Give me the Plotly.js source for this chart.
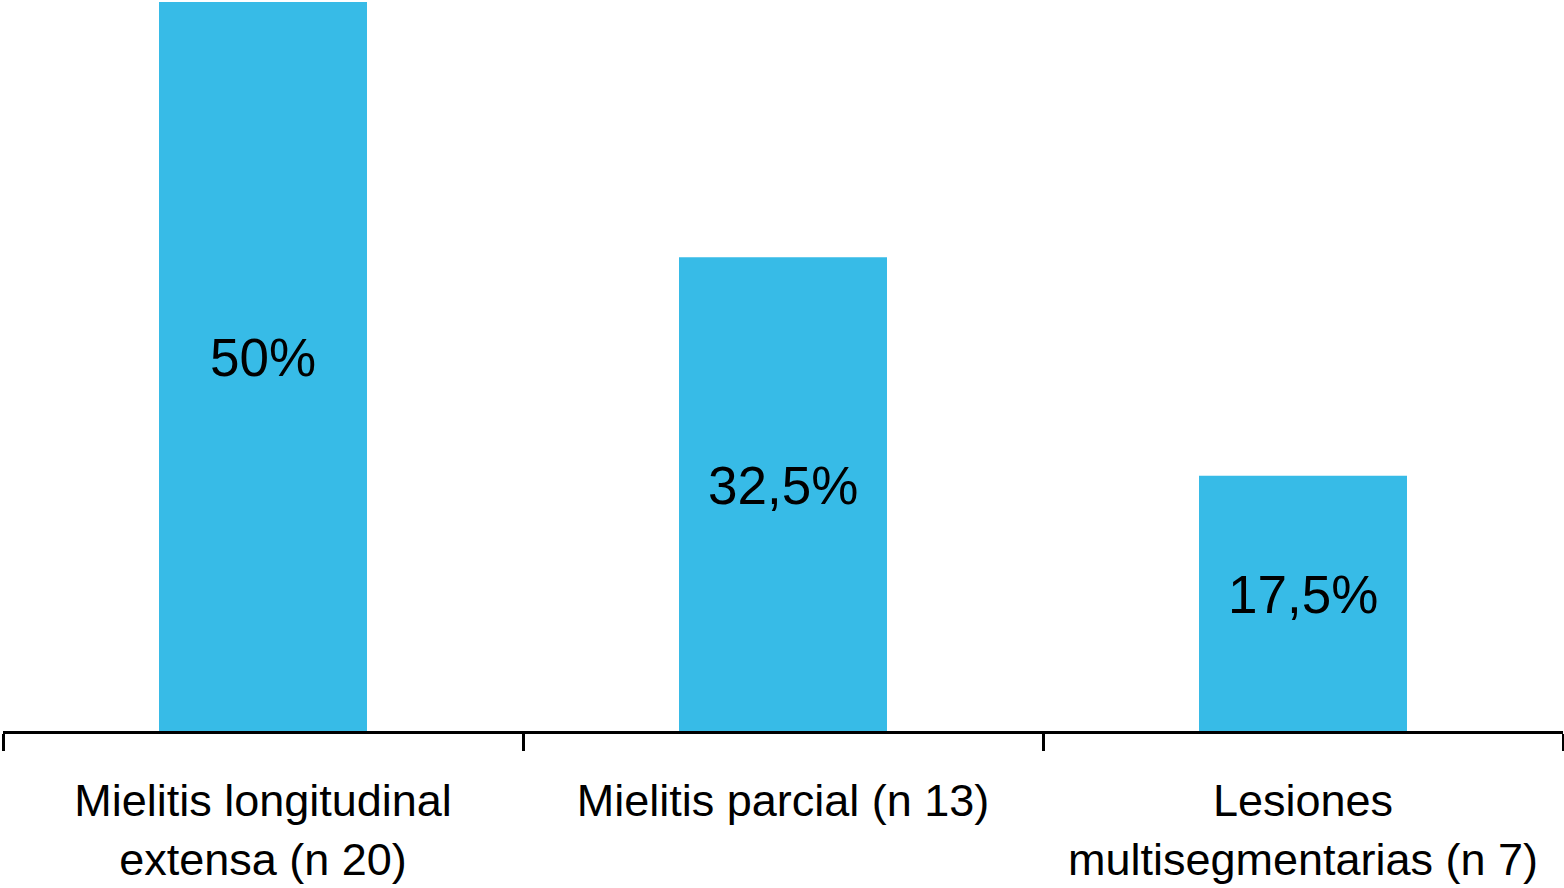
<!DOCTYPE html>
<html>
<head>
<meta charset="utf-8">
<script src="https://cdn.plot.ly/plotly-3.0.1.min.js"></script>
<style>
html,body{margin:0;padding:0;background:#fff;}
#chart{width:1564px;height:888px;}
</style>
</head>
<body>
<div id="chart"></div>
<script>
const categories = ["Mielitis longitudinal<br>extensa (n 20)", "Mielitis parcial (n 13)", "Lesiones<br>multisegmentarias (n 7)"];
const values = [50, 32.5, 17.5];
const valueLabels = ["50%", "32,5%", "17,5%"];

const trace = {
  type: "bar",
  x: categories,
  y: values,
  marker: {color: "#37BBE7", line: {width: 0}},
  hoverinfo: "skip"
};

const annotations = values.map((v, i) => ({
  x: categories[i], y: v / 2, xref: "x", yref: "y",
  text: valueLabels[i], showarrow: false,
  yshift: 9,
  font: {family: "Liberation Sans, Arial, sans-serif", size: 53, color: "#000"}
}));

const layout = {
  width: 1564, height: 888,
  margin: {l: 3, r: 1, t: 0, b: 157},
  paper_bgcolor: "#fff", plot_bgcolor: "#fff",
  showlegend: false,
  bargap: 0.6,
  xaxis: {
    type: "category",
    tickson: "boundaries",
    ticks: "outside", ticklen: 17, tickwidth: 3, tickcolor: "#000",
    showline: true, linecolor: "#000", linewidth: 3,
    showgrid: false, zeroline: false,
    ticklabelstandoff: 28,
    tickfont: {family: "Liberation Sans, Arial, sans-serif", size: 45, color: "#000"},
    fixedrange: true
  },
  yaxis: {
    range: [0, 50.14],
    visible: false,
    showgrid: false, zeroline: false, showline: false,
    fixedrange: true
  },
  annotations: annotations
};

Plotly.newPlot("chart", [trace], layout, {displayModeBar: false, staticPlot: true});
</script>
</body>
</html>
